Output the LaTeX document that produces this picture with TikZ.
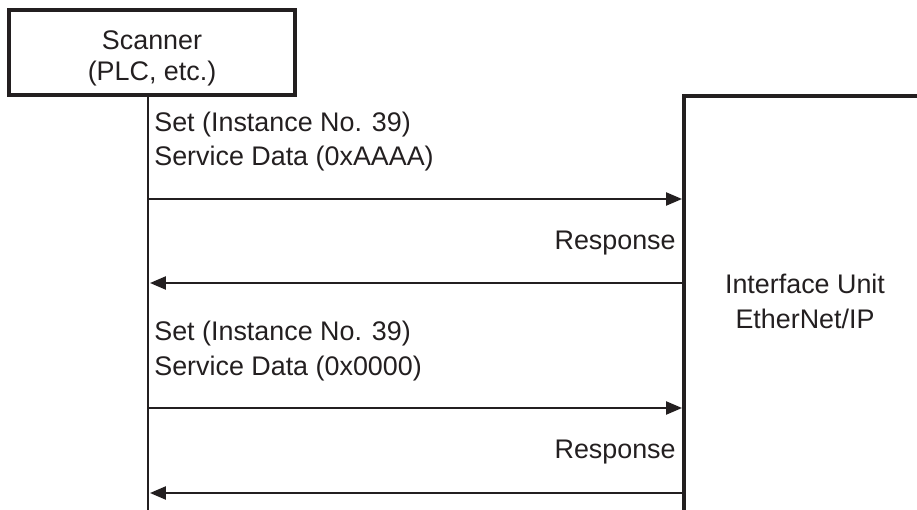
\documentclass[tikz,border=0pt]{standalone}
\usepackage{fontspec}
\setmainfont{Liberation Sans}
\usetikzlibrary{arrows.meta}
\definecolor{inkblack}{RGB}{35,31,32}

\begin{document}
\begin{tikzpicture}[x=0.02cm, y=-0.02cm, inkblack,
    every node/.style={font=\fontsize{15.3}{19.8}\selectfont},
    msg/.style={line width=1.1pt, -{Triangle[length=9pt, width=7.4pt]}},
    label/.style={inner sep=0pt, align=left}]
        \useasboundingbox (0,0) rectangle (917,510);

        % Scanner box and its lifeline
        \node[draw, line width=2.3pt, minimum width=5.72cm, minimum height=1.7cm] (scanner) at (152,52.5) {};
        \node[align=center, font=\fontsize{15.3}{17.9}\selectfont] (scanner_label) at ([yshift=-0.12cm]scanner.center) {Scanner\\(PLC, etc.)};
        \coordinate (scanner_end) at (148,510);
        \draw[line width=1.4pt] (scanner.south -| scanner_end) -- (scanner_end);

        % Interface unit edge (box runs past the right border)
        \coordinate (unit_corner) at (684,96);
        \coordinate (unit_end) at (684,510);
        \coordinate (unit_right) at (917,96);
        \draw[line width=2.3pt] (unit_end) -- (unit_corner) -- (unit_right);
        \node[align=center] (unit) at (805,301) {Interface Unit\\EtherNet/IP};

        % Define message end points
        \coordinate (set1_from) at (148,199);
        \coordinate (set1_to) at (682,199);
        \coordinate (resp1_from) at (684,283);
        \coordinate (resp1_to) at (150,283);
        \coordinate (set2_from) at (148,408);
        \coordinate (set2_to) at (682,408);
        \coordinate (resp2_from) at (684,493);
        \coordinate (resp2_to) at (150,493);

        % Draw the messages
        \draw[msg] (set1_from) -- (set1_to);
        \draw[msg] (resp1_from) -- (resp1_to);
        \draw[msg] (set2_from) -- (set2_to);
        \draw[msg] (resp2_from) -- (resp2_to);

        % Message labels (base anchor sits on the last line)
        \node[label, anchor=base west] (set1) at (154,166) {Set (Instance No. 39)\\Service Data (0xAAAA)};
        \node[label, anchor=base east] (resp1) at (676,250) {Response};
        \node[label, anchor=base west] (set2) at (154,375) {Set (Instance No. 39)\\Service Data (0x0000)};
        \node[label, anchor=base east] (resp2) at (676,458) {Response};
\end{tikzpicture}
\end{document}
